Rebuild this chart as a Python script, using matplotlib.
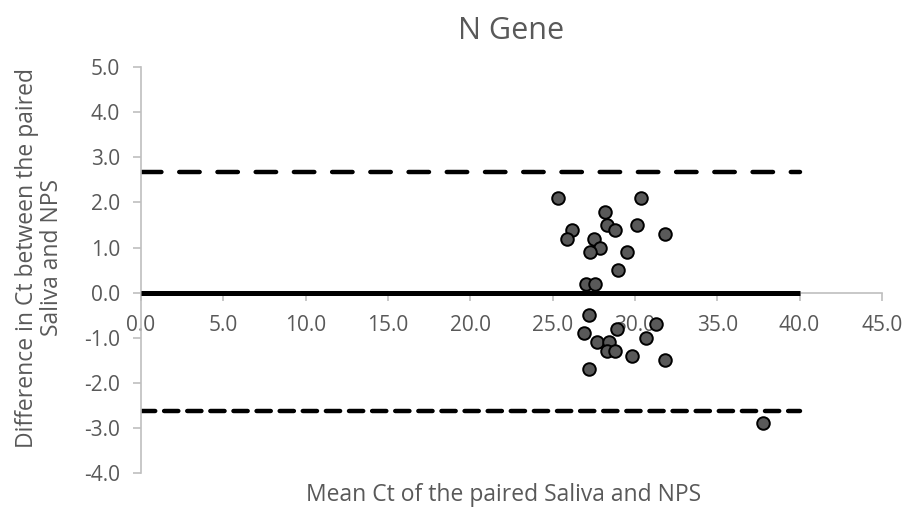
import numpy as np
import matplotlib.pyplot as plt

# Bland-Altman data
mean_ct = [25.3, 30.4, 28.2, 26.2, 25.9, 28.3, 28.8, 30.1, 31.8, 27.5,
           27.9, 27.3, 29.5, 29.0, 27.0, 27.6, 27.2, 26.9, 28.9, 31.3,
           27.7, 28.4, 30.7, 28.3, 28.8, 29.8, 31.8, 27.2, 37.8]
diff_ct = [2.1, 2.1, 1.8, 1.4, 1.2, 1.5, 1.4, 1.5, 1.3, 1.2,
           1.0, 0.9, 0.9, 0.5, 0.2, 0.2, -0.5, -0.9, -0.8, -0.7,
           -1.1, -1.1, -1.0, -1.3, -1.3, -1.4, -1.5, -1.7, -2.9]
mean_diff = 0.0
upper_loa = 2.68
lower_loa = -2.63
line_x = [0, 40]

grey = '#595959'
plt.rcParams['font.family'] = ['Open Sans', 'DejaVu Sans']

fig = plt.figure(figsize=(9.11, 5.17), dpi=100)
ax = fig.add_axes([0.1548, 0.085, 0.8132, 0.785])

# limits of agreement and mean difference
ax.plot(line_x, [upper_loa, upper_loa], color='black', lw=3.2,
        dashes=(4.6, 4.0), dash_capstyle='round')
ax.plot(line_x, [lower_loa, lower_loa], color='black', lw=3.2,
        dashes=(3.2, 2.0), dash_capstyle='round')
ax.plot(line_x, [mean_diff, mean_diff], color='black', lw=3.6,
        solid_capstyle='butt', zorder=3)
ax.scatter(mean_ct, diff_ct, s=82, color='#595959', edgecolor='black',
           linewidth=1.4, zorder=4)

ax.set_xlim(0, 45)
ax.set_ylim(-4, 5)
ax.set_xticks(np.arange(0, 46, 5))
ax.set_yticks(np.arange(-4, 6, 1))
ax.xaxis.set_major_formatter(plt.FormatStrFormatter('%.1f'))
ax.yaxis.set_major_formatter(plt.FormatStrFormatter('%.1f'))

for s in ['top', 'right']:
    ax.spines[s].set_visible(False)
ax.spines['bottom'].set_position(('data', 0))
for s in ['bottom', 'left']:
    ax.spines[s].set_color('#bfbfbf')
    ax.spines[s].set_linewidth(1.2)
ax.tick_params(axis='both', colors='#bfbfbf', labelcolor=grey, labelsize=15,
               length=6, width=1.2)
ax.tick_params(axis='y', pad=9)
ax.tick_params(axis='x', pad=10)

ax.set_title('N Gene', fontsize=22, color=grey, pad=20)
ax.set_xlabel('Mean Ct of the paired Saliva and NPS', fontsize=16.5, color=grey,
              va='center')
ax.xaxis.set_label_coords(0.49, -0.054)
ax.set_ylabel('Difference in Ct between the paired\nSaliva and NPS', fontsize=16.5,
              color=grey, linespacing=1.05, va='center')
ax.yaxis.set_label_coords(-0.137, 0.53)

fig.savefig('out.png', dpi=100)
